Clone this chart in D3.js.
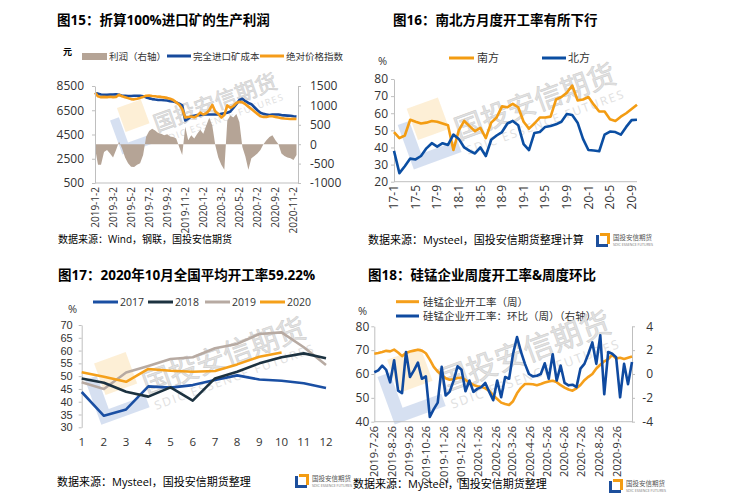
<!DOCTYPE html>
<html><head><meta charset="utf-8">
<script src="https://cdn.jsdelivr.net/npm/d3@7/dist/d3.min.js"></script>
<style>body{margin:0;background:#fff;}</style>
</head><body>
<svg id="c" width="736" height="500"></svg>
<script>
// ---------- Chart 15 data (1/3-month steps from 2019-1-2) ----------
const c15Ticks = ["2019-1-2","2019-3-2","2019-5-2","2019-7-2","2019-9-2","2019-11-2","2020-1-2","2020-3-2","2020-5-2","2020-7-2","2020-9-2","2020-11-2"];
const c15Profit = [-100,-530,-530,-200,-150,-240,-340,-150,60,-110,
 -340,-490,-580,-590,-530,-490,-280,190,340,400,
 355,290,270,230,255,200,185,145,-70,-280,
 450,100,230,145,270,370,270,480,680,480,
 -25,-340,-530,-660,610,740,690,780,570,-70,
 -320,-660,-365,-305,-240,-150,0,100,185,230,
 100,0,-240,-305,-340,-365,-405,-280];
const c15Cost = [7900,7870,7800,7780,7780,7790,7800,7820,7770,7700,
 7700,7680,7680,7690,7700,7700,7650,7560,7480,7420,
 7380,7350,7350,7320,7300,7250,7220,7150,7050,6900,
 5650,5800,6000,6050,6100,6100,6150,6150,6150,6150,
 6150,6150,6200,6250,6300,6400,6700,7000,7350,7450,
 7250,7100,7000,6750,6500,6300,6200,6150,6100,6150,
 6150,6150,6100,6080,6060,6040,6000,5980];
const c15Index = [7950,7650,7580,7600,7580,7620,7580,7600,7780,7650,
 7580,7500,7420,7400,7450,7520,7600,7700,7720,7680,
 7650,7620,7600,7560,7520,7450,7350,7150,6950,6600,
 5900,5950,5980,5920,6050,6300,6150,6250,6500,6950,
 6400,6200,5900,6100,6900,6700,6850,7100,7200,7150,
 7000,6800,6600,6400,6200,6000,5950,5950,6000,6000,
 5950,5900,5850,5820,5800,5780,5800,5780];
const c15LeftTicks = [500,2500,4500,6500,8500];
const c15RightTicks = [-1000,-500,0,500,1000,1500];

// ---------- Chart 16 data (monthly 17-1 .. 20-10) ----------
const c16Ticks = ["17-1","17-5","17-9","18-1","18-5","18-9","19-1","19-5","19-9","20-1","20-5","20-9"];
const c16South = [49,45.5,47,56.2,55,54,54.5,55.5,55,54,53,38.5,50,55.5,52.5,49.5,51.5,45.5,54.5,57.5,64,63.5,65.5,63.5,55,51,54,57.5,57.5,58,68,69.5,72,76.2,67.5,68,69.5,65,61,61,56.5,55.5,58,60,62.5,65];
const c16North = [38,25,29,33.5,33,35,39.5,42.5,40.5,42.5,41.5,47.5,45,40,38,36.5,40,35,44.5,47,49,54,55.5,53,42,38.5,48.5,49,52,52.5,53.5,55,59.5,59,54.5,45,38.5,38.2,37.8,47.5,49.3,49,47.5,52,56,56.2];
const c16YTicks = [20,30,40,50,60,70,80];

// ---------- Chart 17 data ----------
const c17Months = ["1","2","3","4","5","6","7","8","9","10","11","12"];
const c17Y2017 = [43.8,34.5,37,46,45.5,46.5,48.5,50.3,48.7,48.2,47.2,45.4];
const c17Y2018 = [49.1,47.4,43.9,42,45.6,40.4,49.1,51.7,55,57.4,58.9,57];
const c17Y2019 = [47.6,45,51.4,54,56.7,57.4,60.9,62.6,66.5,67.1,61.3,54.4];
const c17Y2020 = [51.5,49.8,47.8,52.8,52.1,51.7,52,54.6,57.6,59.22];
const c17YTicks = [30,35,40,45,50,55,60,65,70];

// ---------- Chart 18 data (weekly from 2019-7-26) ----------
const c18Ticks = ["2019-7-26","2019-8-26","2019-9-26","2019-10-26","2019-11-26","2019-12-26","2020-1-26","2020-2-26","2020-3-26","2020-4-26","2020-5-26","2020-6-26","2020-7-26","2020-8-26","2020-9-26"];
const c18Rate = [68.5,68.8,69.2,69.7,69.5,70.2,69,67.5,68.8,69.4,
 69.8,70.2,69.8,68.7,66,63,61,59.7,58.2,57.6,
 57.8,58.3,58.5,57.5,56.4,55.4,54.9,54.6,54,52.9,
 51,49.5,48,47.4,47,48.6,51.9,54.2,55.8,55.8,
 55.7,55.3,55.8,56.4,56.9,57.2,56.6,55.3,54.3,53.5,
 53,54,55.4,57.4,58.8,60,62.3,63.9,65.3,66.2,
 68,66.5,66.8,66.3,66.8,67.3];
const c18Chg = [0.15,0.3,0.7,0.35,-0.7,1.15,-1.4,-1.6,1.85,-0.25,
 0.3,0.95,-0.4,-0.2,-3.6,-2.95,-2.4,0.6,-1.8,-1.5,
 -0.55,0.65,0.35,-1.45,-0.55,-1.5,-1.25,-1.1,-0.75,-1.5,
 -2.2,-0.55,-1.95,-0.25,-0.4,1.7,3.1,1.85,0.85,0,
 -0.2,-0.15,0,0.9,-0.4,1.65,-0.55,0.7,-0.75,-0.95,
 -0.9,-1.1,0.45,0.85,1.7,2.65,0.85,3.25,-1.7,1.85,
 1.7,1.4,-1.95,0.85,-0.85,1.0];
const c18LeftTicks = [40,50,60,70,80];
const c18RightTicks = [-4,-2,0,2,4];

// ---------- helpers ----------
const F = '"Open Sans","Noto Sans CJK SC",sans-serif';
const FA = '"Liberation Sans","Noto Sans CJK SC",sans-serif';
const svg = d3.select("#c");
svg.append("rect").attr("width",736).attr("height",500).attr("fill","#fff");
const AX = "#bfbfbf", TXT = "#333";

function text(x,y,s,size,o={}){
  const t = svg.append("text").attr("x",x).attr("y",y).text(s)
    .style("font-size",size+"px").style("font-family",F).attr("fill",o.fill||"#000");
  if(o.bold) t.style("font-weight","700");
  if(o.anchor) t.attr("text-anchor",o.anchor);
  return t;
}
function yAxis(scale,x,ticks,side,size,tk,pad,fam){
  const ax=(side==="left"?d3.axisLeft(scale):d3.axisRight(scale)).tickValues(ticks)
    .tickFormat(d=>String(d)).tickSize(tk).tickSizeOuter(0).tickPadding(pad);
  const a=svg.append("g").attr("transform",`translate(${x},0)`).call(ax);
  a.select(".domain").attr("stroke",AX);
  a.selectAll(".tick line").attr("stroke",AX);
  a.selectAll(".tick text").attr("fill",TXT).style("font-size",size+"px").style("font-family",fam||F);
  return a;
}
function hline(x1,x2,y){svg.append("line").attr("x1",x1).attr("x2",x2).attr("y1",y).attr("y2",y).attr("stroke",AX);}
function rotLabels(pos,labels,yTop,size){
  svg.append("g").selectAll("text").data(labels).join("text")
    .attr("transform",(d,i)=>`translate(${pos[i]},${yTop}) rotate(-90)`)
    .attr("text-anchor","end").attr("dy","0.35em")
    .style("font-size",size+"px").style("font-family",F).attr("fill",TXT).text(d=>d);
}
function path(data,xf,yf,color,w){
  svg.append("path").datum(data).attr("fill","none").attr("stroke",color).attr("stroke-width",w)
    .attr("stroke-linejoin","round").attr("d",d3.line().x((d,i)=>xf(i)).y(d=>yf(d)));
}
function legLine(x1,x2,y,color){svg.append("line").attr("x1",x1).attr("x2",x2).attr("y1",y).attr("y2",y).attr("stroke",color).attr("stroke-width",3);}
function watermark(x0,y0,len){
  const fs=len/6.2;
  const g=svg.append("g").attr("transform",`translate(${x0},${y0}) rotate(-20)`);
  g.append("rect").attr("x",-len*0.22).attr("y",-len*0.27).attr("width",len*0.19).attr("height",len*0.19).attr("fill","#fdebcc").attr("opacity",0.8);
  g.append("path").attr("fill","#cfdbee").attr("opacity",0.85)
    .attr("d",`M${-len*0.3},${-len*0.2} h${len*0.07} v${len*0.2} h${len*0.22} v${len*0.07} h${-len*0.29} Z`);
  g.append("text").attr("x",0).attr("y",0).text("国投安信期货")
    .style("font-size",fs+"px").style("font-family",F).attr("fill","#e2e2e2").attr("stroke","#d0d0d0").attr("stroke-width",0.6);
  g.append("text").attr("x",len*0.02).attr("y",fs*0.6).text("SDIC ESSENCE FUTURES")
    .style("font-size",(fs*0.42)+"px").style("font-family",F).attr("fill","#e0e0e0").attr("textLength",len*0.95);
}
function logo(x,y){
  const g=svg.append("g").attr("transform",`translate(${x},${y})`);
  g.append("path").attr("fill","#1d4f9c").attr("d","M0,2 h3 v9 h9 v3 h-12 Z");
  g.append("path").attr("fill","#f39c12").attr("d","M4,0 h10 v11 h-3 v-8 h-7 Z");
  g.append("text").attr("x",17).attr("y",7).text("国投安信期货").style("font-size","6.5px").style("font-family",F).attr("fill","#555");
  g.append("text").attr("x",17).attr("y",12.5).text("SDIC ESSENCE FUTURES").style("font-size","3.6px").style("font-family",F).attr("fill","#777");
}

// ================= Chart 15 =================
{
  const x = d3.scaleLinear().domain([0,c15Cost.length-0.5]).range([95,298]);
  const yL = d3.scaleLinear().domain([500,8500]).range([183,86]);
  const yR = d3.scaleLinear().domain([-1000,1500]).range([183,86]);
  text(57,25,"图15：折算100%进口矿的生产利润",13.5,{bold:true});
  text(63,55,"元",9,{bold:true});
  svg.append("rect").attr("x",82).attr("y",53).attr("width",25).attr("height",7).attr("fill","#b5a496");
  text(109,60,"利润（右轴）",9.5,{fill:"#333"});
  legLine(167,191,56,"#174a9c"); text(193,60,"完全进口矿成本",9.5,{fill:"#333"});
  legLine(260,284,56,"#f59c1a"); text(286,60,"绝对价格指数",9.5,{fill:"#333"});
  watermark(157,132,134);
  svg.append("path").datum(c15Profit).attr("fill","#b5a496")
    .attr("d",d3.area().x((d,i)=>x(i)).y0(yR(0)).y1(d=>yR(d)));
  path(c15Cost,x,yL,"#174a9c",2.6);
  path(c15Index,x,yL,"#f59c1a",2.6);
  yAxis(yL,95,c15LeftTicks,"left",12,3,8);
  yAxis(yR,298,c15RightTicks,"right",12,3,9);
  hline(95,298,183);
  const pos = c15Ticks.map((d,i)=>x(i*6));
  rotLabels(pos,c15Ticks,187,10);
  text(58,243,"数据来源：Wind，钢联，国投安信期货",10,{fill:"#000"});
}

// ================= Chart 16 =================
{
  const x = d3.scaleLinear().domain([0,c16South.length-1]).range([394,637]);
  const y = d3.scaleLinear().domain([20,80]).range([181.7,79]);
  text(393,25,"图16：南北方月度开工率有所下行",13.5,{bold:true});
  text(378,65,"%",11,{fill:"#333"});
  legLine(449,474,58,"#f39c12"); text(477,62,"南方",11,{fill:"#333"});
  legLine(542,566,58,"#0b4ea2"); text(568,62,"北方",11,{fill:"#333"});
  watermark(459,140,175);
  yAxis(y,394,c16YTicks,"left",12,3,3);
  hline(394,637,181.7);
  path(c16South,x,y,"#f39c12",2.6);
  path(c16North,x,y,"#0b4ea2",2.6);
  const pos = c16Ticks.map((d,i)=>x(i*4));
  rotLabels(pos,c16Ticks,185,12);
  text(368,244,"数据来源：Mysteel，国投安信期货整理计算",11,{fill:"#000"});
  logo(596,233);
}

// ================= Chart 17 =================
{
  const x = d3.scaleLinear().domain([1,12]).range([81.7,326]);
  const y = d3.scaleLinear().domain([30,70]).range([427.3,325]);
  text(58,280,"图17：2020年10月全国平均开工率59.22%",13.5,{bold:true});
  const leg=[["2017","#1a4fa3",93],["2018","#1c3240",148],["2019","#b7aaa2",205],["2020","#f5a01a",260]];
  leg.forEach(l=>{legLine(l[2],l[2]+25,302,l[1]); text(l[2]+27,306,l[0],10.5,{fill:"#333"});});
  text(68,313,"%",11,{fill:"#333"});
  watermark(147,395,177);
  yAxis(y,81.7,c17YTicks,"left",11,3,6,FA);
  const xf=i=>x(i+1);
  path(c17Y2019,xf,y,"#b7aaa2",2.6);
  path(c17Y2017,xf,y,"#1a4fa3",2.6);
  path(c17Y2018,xf,y,"#1c3240",2.6);
  path(c17Y2020,xf,y,"#f5a01a",2.6);
  svg.append("g").selectAll("text").data(c17Months).join("text")
    .attr("x",(d,i)=>x(i+1)).attr("y",446).attr("text-anchor","middle")
    .style("font-size","11.5px").style("font-family",F).attr("fill",TXT).text(d=>d);
  text(57,486,"数据来源：Mysteel，国投安信期货整理",11,{fill:"#000"});
  logo(295,474);
}

// ================= Chart 18 =================
{
  const parse = d3.timeParse("%Y-%m-%d");
  const start = parse(c18Ticks[0]);
  const dates = c18Rate.map((d,i)=>d3.timeDay.offset(start,7*i));
  const x = d3.scaleTime().domain([start,dates[dates.length-1]]).range([374.3,632]);
  const yL = d3.scaleLinear().domain([40,80]).range([421.7,326.3]);
  const yR = d3.scaleLinear().domain([-4,4]).range([421.7,326.3]);
  text(368,280,"图18：硅锰企业周度开工率&周度环比",13.5,{bold:true});
  legLine(396,419,301.7,"#f59f1b"); text(423,306,"硅锰企业开工率（周）",10.5,{fill:"#333"});
  legLine(396,419,316,"#0f4aa0"); text(423,320,"硅锰企业开工率：环比（周）（右轴）",10.5,{fill:"#333"});
  text(358,315,"%",11,{fill:"#333"});
  watermark(443,393,187);
  yAxis(yL,374.3,c18LeftTicks,"left",12,3,2);
  const r=yAxis(yR,632,c18RightTicks,"right",12,3,3);
  r.selectAll(".tick text").attr("text-anchor","end").attr("x",21);
  hline(374.3,632,421.7);
  const xf=i=>x(dates[i]);
  path(c18Rate,xf,yL,"#f59f1b",2.6);
  path(c18Chg,xf,yR,"#0f4aa0",2.6);
  const pos=c18Ticks.map(d=>x(parse(d)));
  rotLabels(pos,c18Ticks,426,11);
  text(353,488,"数据来源：Mysteel，国投安信期货整理",11,{fill:"#000"});
  logo(609,479);
}
</script></body></html>
